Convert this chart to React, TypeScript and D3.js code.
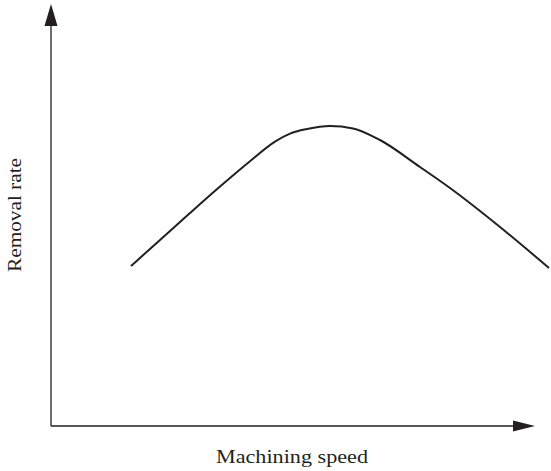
import React from "react";
import * as d3 from "d3";

const speed = [16.06, 21.89, 27.91, 33.94, 39.96, 44.98, 47.99, 51.41, 56.02, 60.64, 66.06, 74.1, 80.12, 90.16, 100];
const removalRate = [40.0, 46.5, 53.25, 59.875, 66.2, 71.1, 73.1, 74.25, 75.0, 74.4, 71.5, 64.75, 59.5, 49.75, 39.5];
const xLabel = "Machining speed";
const yLabel = "Removal rate";

export default function App() {
  const W = 551, H = 471;
  const x = d3.scaleLinear().domain([0, 100]).range([51, 549]);
  const y = d3.scaleLinear().domain([0, 100]).range([426, 26]);
  const pts: [number, number][] = speed.map((s, i) => [s, removalRate[i]]);
  const line = d3.line<[number, number]>()
    .x(d => x(d[0]))
    .y(d => y(d[1]))
    .curve(d3.curveMonotoneX);
  const x0 = x(0), y0 = y(0);
  const font = "'Liberation Serif', 'DejaVu Serif', serif";
  return (
    <svg width={W} height={H} style={{ position: "absolute", left: 0, top: 0 }}>
      <line x1={x0} y1={y0} x2={x0} y2={22} stroke="#231f20" strokeWidth={1.3} />
      <line x1={x0} y1={y0} x2={516} y2={y0} stroke="#231f20" strokeWidth={1.3} />
      <path d={`M${x0},4 L${x0 + 6.5},26 L${x0 - 6.5},26 Z`} fill="#231f20" />
      <path d={`M535,${y0} L513,${y0 - 5.5} L513,${y0 + 5.5} Z`} fill="#231f20" />
      <path d={line(pts) || ""} fill="none" stroke="#231f20" strokeWidth={2} />
      <text x={216} y={463} textLength={152} lengthAdjust="spacingAndGlyphs" fontFamily={font} fontSize={19} fill="#231f20">{xLabel}</text>
      <text transform="translate(21,272) rotate(-90)" textLength={114} lengthAdjust="spacingAndGlyphs" fontFamily={font} fontSize={19} fill="#231f20">{yLabel}</text>
    </svg>
  );
}
